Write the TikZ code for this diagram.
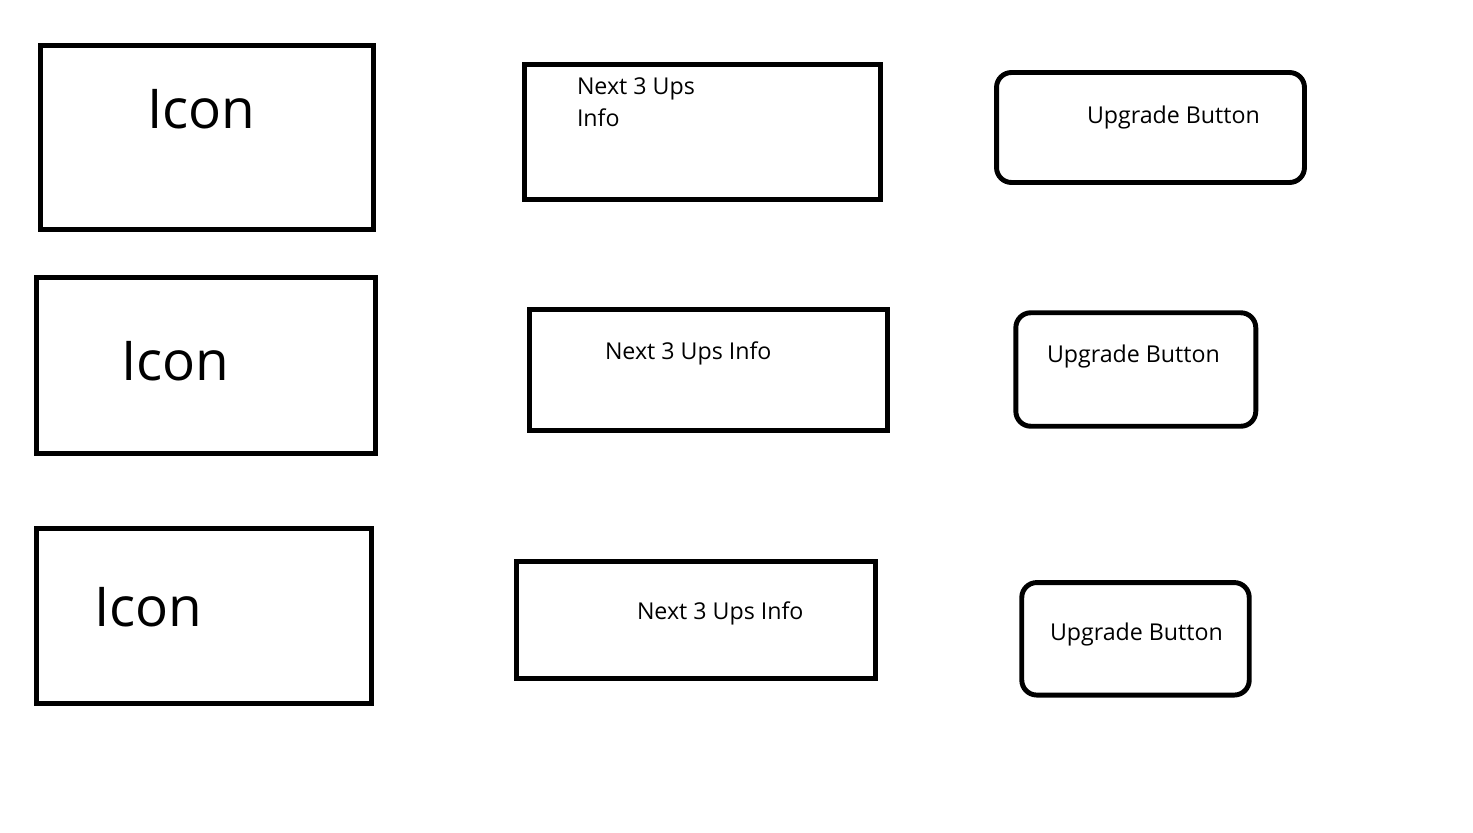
\documentclass[tikz,border=0pt]{standalone}
\usepackage{fontspec}
\setmainfont{Open Sans}
\usetikzlibrary{
	positioning
}
\tikzset{
	UI-Box/.style={rectangle,draw,line width=2.8pt,inner sep=0pt},
	UI-Button/.style={UI-Box,rounded corners=8.5pt},
	UI-Text/.style={inner sep=0pt,outer sep=0pt,anchor=base west,font=\fontsize{13.2}{18.5}\selectfont,align=left},
	UI-Icon/.style={inner sep=0pt,outer sep=0pt,anchor=base west,font=\fontsize{31.2}{36}\selectfont}
}

\begin{document}
\begin{tikzpicture}[x=0.02cm,y=-0.02cm]
	\useasboundingbox (0,0) rectangle (1473,832);
	% first row
	\node [UI-Box,minimum width=6.66cm,minimum height=3.68cm] (icon_a) at (207,137.5) {};
	\node [UI-Box,minimum width=7.12cm,minimum height=2.70cm] (info_a) at (702.5,132) {};
	\node [UI-Button,minimum width=6.16cm,minimum height=2.20cm] (btn_a) at (1150.5,127.5) {};
	\node [UI-Icon] (icon_a_txt) at (147,128.3) {Icon};
	% base of a two-line node sits on its last line
	\node [UI-Text] (info_a_txt) at (577,126.7) {Next 3 Ups\\Info};
	\node [UI-Text] (btn_a_txt) at (1087,123.3) {Upgrade Button};
	% second row
	\node [UI-Box,minimum width=6.78cm,minimum height=3.52cm] (icon_b) at (206.3,365.5) {};
	\node [UI-Box,minimum width=7.15cm,minimum height=2.41cm] (info_b) at (708.6,370.1) {};
	\node [UI-Button,minimum width=4.80cm,minimum height=2.27cm] (btn_b) at (1135.8,369.5) {};
	\node [UI-Icon] (icon_b_txt) at (121,380) {Icon};
	\node [UI-Text] (info_b_txt) at (605,359.7) {Next 3 Ups Info};
	\node [UI-Text] (btn_b_txt) at (1047,362) {Upgrade Button};
	% third row
	\node [UI-Box,minimum width=6.70cm,minimum height=3.50cm] (icon_c) at (204,616) {};
	\node [UI-Box,minimum width=7.19cm,minimum height=2.34cm] (info_c) at (696.2,620) {};
	\node [UI-Button,minimum width=4.55cm,minimum height=2.25cm] (btn_c) at (1135.5,638.8) {};
	\node [UI-Icon] (icon_c_txt) at (94,626) {Icon};
	\node [UI-Text] (info_c_txt) at (637,619) {Next 3 Ups Info};
	\node [UI-Text] (btn_c_txt) at (1050,640.7) {Upgrade Button};
\end{tikzpicture}
\end{document}
